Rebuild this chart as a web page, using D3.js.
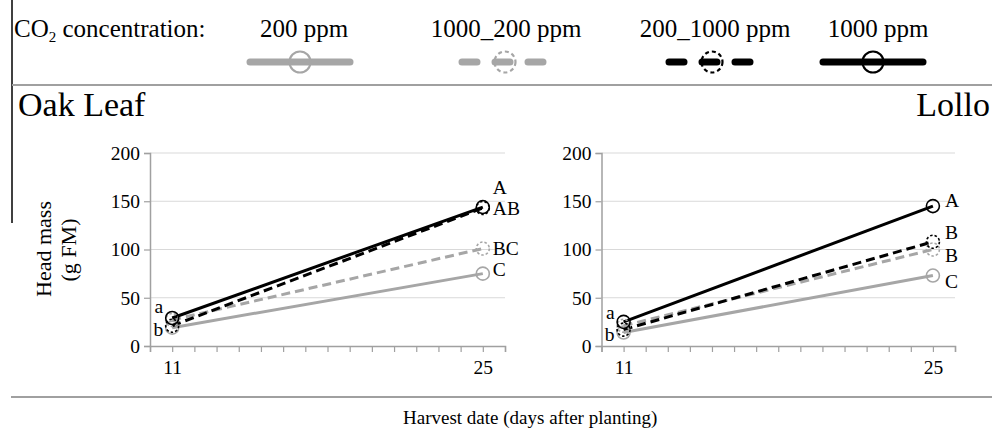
<!DOCTYPE html>
<html><head><meta charset="utf-8">
<script src="https://cdn.jsdelivr.net/npm/d3@7"></script>
<style>
html,body{margin:0;padding:0;background:#fff;}
text{font-family:"Liberation Serif","Times New Roman",serif;fill:#000;}
</style></head>
<body>
<svg id="chart" width="992" height="429"></svg>
<script>
// ---- data ----
const days = [11, 25];
const seriesNames = ["200 ppm", "1000_200 ppm", "200_1000 ppm", "1000 ppm"];
const yTicks = [0, 50, 100, 150, 200];
const xTickLabels = [11, 25];

const oak200 = [19, 75];
const oak1000_200 = [27, 101];
const oak200_1000 = [21, 143];
const oak1000 = [29, 144];

const lollo200 = [14, 73];
const lollo1000_200 = [21, 100];
const lollo200_1000 = [17, 108];
const lollo1000 = [25, 145];

const oakLetters11 = ["a", "b"];
const oakLetters11At = [40, 17];
const oakLetters25 = ["A", "AB", "BC", "C"];
const oakLetters25At = [164, 142, 101, 79];
const lolloLetters11 = ["a", "b"];
const lolloLetters11At = [34, 11];
const lolloLetters25 = ["A", "B", "B", "C"];
const lolloLetters25At = [150, 117, 93, 66];

// ---- styles ----
const styles = [
  {color: "#a6a6a6", dash: null},
  {color: "#a6a6a6", dash: "9,5"},
  {color: "#000", dash: "9,5"},
  {color: "#000", dash: null}
];

const svg = d3.select("#chart");

// frame lines
svg.append("line").attr("x1", 12).attr("x2", 12).attr("y1", 0).attr("y2", 223)
  .attr("stroke", "#000").attr("stroke-width", 1.5);
svg.append("line").attr("x1", 12).attr("x2", 992).attr("y1", 85).attr("y2", 85)
  .attr("stroke", "#a0a0a0").attr("stroke-width", 2);
svg.append("line").attr("x1", 11).attr("x2", 992).attr("y1", 397).attr("y2", 397)
  .attr("stroke", "#a0a0a0").attr("stroke-width", 2);

// legend
const lt = svg.append("text").attr("x", 14).attr("y", 37).style("font-size", "25px");
lt.append("tspan").text("CO");
lt.append("tspan").text("2").style("font-size", "15px").attr("dy", 5);
lt.append("tspan").text(" concentration:").attr("dy", -5);

const legX = d3.scalePoint().domain(seriesNames).range([304, 873]);
const legTextX = [304, 506, 715, 878];
const legSymX = [300, 505, 712, 873];
seriesNames.forEach((n, i) => {
  svg.append("text").attr("x", legTextX[i]).attr("y", 37).attr("text-anchor", "middle")
    .style("font-size", "25px").text(n);
  const cx = legSymX[i];
  const half = i === 1 || i === 2 ? 43 : 50;
  const st = styles[i];
  svg.append("line").attr("x1", cx - half).attr("x2", cx + half).attr("y1", 62).attr("y2", 62)
    .attr("stroke", st.color).attr("stroke-width", 7).attr("stroke-linecap", "round")
    .attr("stroke-dasharray", st.dash ? "15,18" : null);
  svg.append("circle").attr("cx", cx).attr("cy", 62).attr("r", 10.5)
    .attr("fill", "none").attr("stroke", st.color).attr("stroke-width", 2.2)
    .attr("stroke-dasharray", st.dash ? "4,3" : null);
});

// panel titles
svg.append("text").attr("x", 18).attr("y", 116).style("font-size", "34px").text("Oak Leaf");
svg.append("text").attr("x", 990).attr("y", 116).attr("text-anchor", "end").style("font-size", "34px").text("Lollo");

// axis titles
svg.append("text").attr("transform", "translate(51,249) rotate(-90)").attr("text-anchor", "middle")
  .style("font-size", "22px").text("Head mass");
svg.append("text").attr("transform", "translate(76,250) rotate(-90)").attr("text-anchor", "middle")
  .style("font-size", "22px").text("(g FM)");
svg.append("text").attr("x", 403).attr("y", 424).style("font-size", "19px")
  .text("Harvest date (days after planting)");

function panel(x0, x1, series, l11, l11At, l25, l25At, labelOff) {
  const x = d3.scaleLinear().domain([10, 26]).range([x0, x1]);
  const y = d3.scaleLinear().domain([0, 200]).range([346, 153]);
  const g = svg.append("g");
  // grid
  g.selectAll(".grid").data(yTicks.filter(d => d > 0)).enter().append("line")
    .attr("x1", x0).attr("x2", x1).attr("y1", d => y(d)).attr("y2", d => y(d))
    .attr("stroke", "#d9d9d9").attr("stroke-width", 1);
  // y axis
  const ya = g.append("g").attr("transform", `translate(${x0},0)`)
    .call(d3.axisLeft(y).tickValues(yTicks).tickSize(6).tickPadding(4));
  ya.select(".domain").attr("stroke", "#a0a0a0").attr("stroke-width", 1.5);
  ya.selectAll(".tick line").attr("stroke", "#a0a0a0").attr("stroke-width", 1.2);
  ya.selectAll(".tick text").style("font-size", "19.5px").style("font-family", "Liberation Serif");
  // x axis
  const xa = g.append("g").attr("transform", `translate(0,${y(0)})`)
    .call(d3.axisBottom(x).tickValues(d3.range(10, 27)).tickSize(6).tickPadding(8)
      .tickFormat(d => xTickLabels.includes(d) ? d : ""));
  xa.select(".domain").attr("stroke", "#a0a0a0").attr("stroke-width", 1.5);
  xa.selectAll(".tick line").attr("stroke", "#a0a0a0").attr("stroke-width", 1.2);
  xa.selectAll(".tick text").style("font-size", "19.5px").style("font-family", "Liberation Serif");
  // lines
  const line = d3.line().x((d, i) => x(days[i])).y(d => y(d));
  series.forEach((s, i) => {
    const st = styles[i];
    g.append("path").datum(s).attr("d", line).attr("fill", "none")
      .attr("stroke", st.color).attr("stroke-width", 3)
      .attr("stroke-dasharray", st.dash);
  });
  series.forEach((s, i) => {
    const st = styles[i];
    g.selectAll(null).data(s).enter().append("circle")
      .attr("cx", (d, j) => x(days[j])).attr("cy", d => y(d)).attr("r", 6.5)
      .attr("fill", "none").attr("stroke", st.color).attr("stroke-width", 1.6)
      .attr("stroke-dasharray", st.dash ? "2.5,2" : null);
  });
  // letters
  l11.forEach((t, i) => {
    g.append("text").attr("x", x(11) - 9).attr("y", y(l11At[i]) + 6).attr("text-anchor", "end")
      .style("font-size", "19.5px").text(t);
  });
  l25.forEach((t, i) => {
    g.append("text").attr("x", x(25) + labelOff).attr("y", y(l25At[i]) + 6)
      .style("font-size", "19.5px").text(t);
  });
}

panel(150, 505, [oak200, oak1000_200, oak200_1000, oak1000],
  oakLetters11, oakLetters11At, oakLetters25, oakLetters25At, 10);
panel(601.5, 955, [lollo200, lollo1000_200, lollo200_1000, lollo1000],
  lolloLetters11, lolloLetters11At, lolloLetters25, lolloLetters25At, 12);
</script>
</body></html>
